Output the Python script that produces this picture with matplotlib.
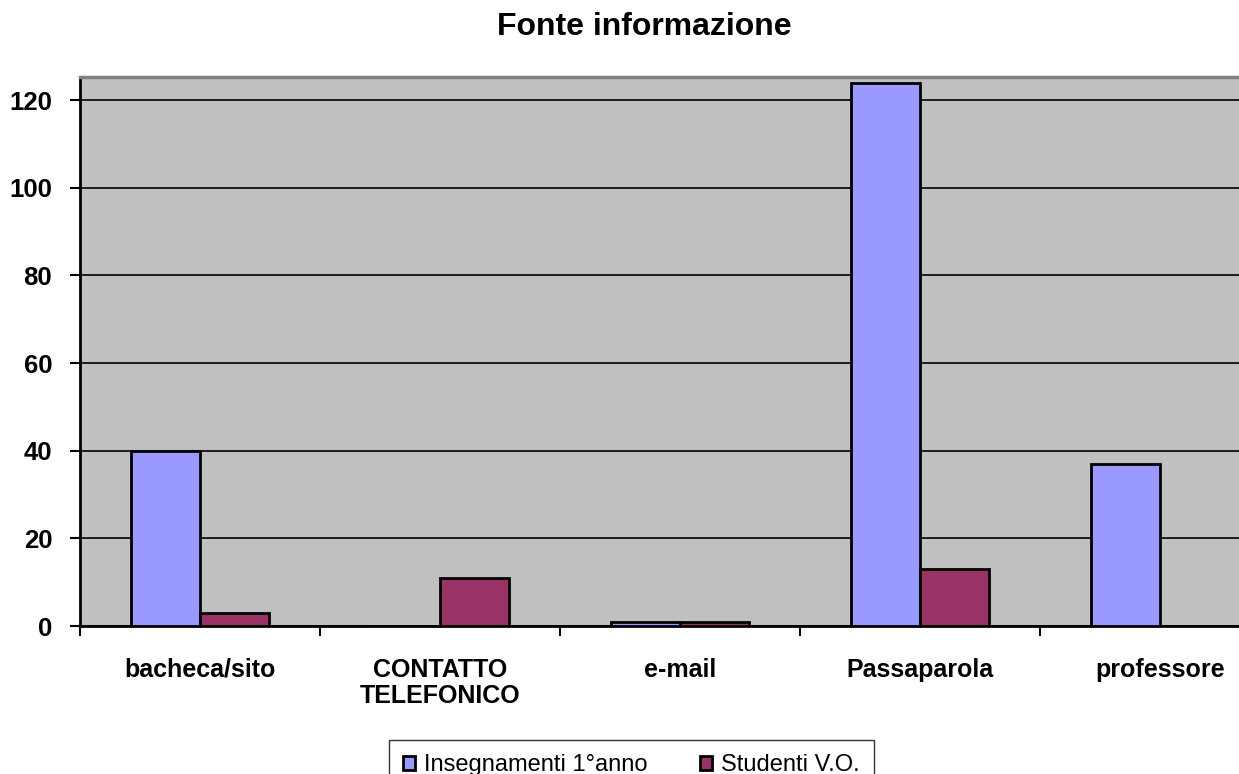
import matplotlib.pyplot as plt
import numpy as np

# Data
categories = ["bacheca/sito", "CONTATTO\nTELEFONICO", "e-mail", "Passaparola", "professore"]
insegnamenti = [40, 0, 1, 124, 37]
studenti_vo = [3, 11, 1, 13, 0]
y_ticks = [0, 20, 40, 60, 80, 100, 120]

plt.rcParams['font.family'] = ['Liberation Sans', 'DejaVu Sans']

fig = plt.figure(figsize=(12.39, 7.74), dpi=100)
# plot area runs off the right edge of the picture, as in the original
ax = fig.add_axes([80 / 1239, 1 - 626 / 774, 1200 / 1239, 549 / 774])
ax.set_facecolor("#C0C0C0")

x = np.arange(len(categories))
w = 1 / 3.5
ax.bar(x - w / 2, insegnamenti, width=w, color="#9999FF", edgecolor="black",
       linewidth=2, label="Insegnamenti 1°anno", zorder=3)
ax.bar(x + w / 2, studenti_vo, width=w, color="#993366", edgecolor="black",
       linewidth=2, label="Studenti V.O.", zorder=3)

ax.set_xlim(-0.5, len(categories) - 0.5)
ax.set_ylim(0, 125.3)
ax.set_yticks(y_ticks)
ax.set_yticklabels([str(v) for v in y_ticks], fontsize=18.5, fontweight="bold")
ax.yaxis.grid(True, color="black", linewidth=1.2, zorder=1)

# category labels between boundary ticks
ax.set_xticks(x)
ax.set_xticklabels(categories, fontsize=18, fontweight="bold", linespacing=1.1)
ax.tick_params(axis="x", length=0, pad=23)
ax.set_xticks(np.arange(len(categories) + 1) - 0.5, minor=True)
ax.tick_params(axis="x", which="minor", length=7, width=1.5, direction="out")
ax.tick_params(axis="y", length=7, width=1.5, direction="out", pad=13)

for side in ["left", "bottom"]:
    ax.spines[side].set_color("black")
    ax.spines[side].set_linewidth(2)
ax.spines["top"].set_color("#808080")
ax.spines["top"].set_linewidth(2.5)
ax.spines["right"].set_visible(False)

fig.text(644 / 1239, 1 - 27 / 774, "Fonte informazione", ha="center", va="center",
         fontsize=23, fontweight="bold")

leg = fig.legend(loc="upper left", bbox_to_anchor=(389 / 1239, 1 - 740 / 774),
                 ncol=2, fontsize=17, frameon=True, fancybox=False,
                 handlelength=0.5, handleheight=0.5, handletextpad=0.4,
                 columnspacing=2.2, borderpad=0.6, borderaxespad=0)
leg.get_frame().set_edgecolor("black")
leg.get_frame().set_linewidth(1)

fig.savefig("out.png", dpi=100)
